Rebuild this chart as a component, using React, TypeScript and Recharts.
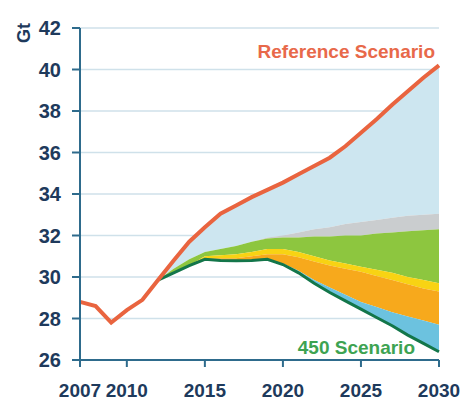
import React from 'react';
import { ComposedChart, Area, Line, XAxis, YAxis, CartesianGrid } from 'recharts';

const years = [2007, 2008, 2009, 2010, 2011, 2012, 2013, 2014, 2015, 2016, 2017, 2018, 2019, 2020, 2021, 2022, 2023, 2024, 2025, 2026, 2027, 2028, 2029, 2030];
const referenceScenario = [28.8, 28.6, 27.8, 28.4, 28.9, 29.85, 30.8, 31.7, 32.4, 33.05, 33.45, 33.85, 34.2, 34.55, 34.95, 35.35, 35.75, 36.3, 36.95, 37.6, 38.3, 38.95, 39.6, 40.2];
const greyTop = [null, null, null, null, null, 29.85, 30.4, 30.85, 31.2, 31.35, 31.5, 31.7, 31.9, 32.0, 32.15, 32.3, 32.4, 32.55, 32.65, 32.75, 32.85, 32.95, 33.0, 33.05];
const greenTop = [null, null, null, null, null, 29.85, 30.4, 30.85, 31.2, 31.35, 31.5, 31.7, 31.85, 31.9, 31.9, 31.95, 31.95, 32.0, 32.0, 32.1, 32.15, 32.2, 32.25, 32.3];
const yellowTop = [null, null, null, null, null, 29.85, 30.2, 30.55, 31.0, 31.05, 31.1, 31.2, 31.35, 31.35, 31.2, 31.0, 30.8, 30.65, 30.5, 30.35, 30.2, 30.0, 29.85, 29.7];
const orangeTop = [null, null, null, null, null, 29.85, 30.2, 30.55, 30.9, 30.9, 30.9, 31.0, 31.1, 31.1, 30.95, 30.75, 30.55, 30.4, 30.25, 30.05, 29.85, 29.65, 29.45, 29.3];
const blueTop = [null, null, null, null, null, 29.85, 30.2, 30.55, 30.85, 30.8, 30.78, 30.8, 30.85, 30.65, 30.3, 29.85, 29.5, 29.15, 28.8, 28.55, 28.3, 28.1, 27.9, 27.7];
const scenario450 = [null, null, null, null, null, 29.85, 30.2, 30.55, 30.85, 30.8, 30.78, 30.8, 30.85, 30.6, 30.2, 29.7, 29.25, 28.85, 28.45, 28.05, 27.65, 27.2, 26.8, 26.4];

const xTicks = [2007, 2010, 2015, 2020, 2025, 2030];
const yTicks = [26, 28, 30, 32, 34, 36, 38, 40, 42];
const unitLabel = 'Gt';
const refLabel = 'Reference Scenario';
const s450Label = '450 Scenario';

const data = years.map((year, i) => ({
  year,
  ref: referenceScenario[i],
  greyTop: greyTop[i],
  greenTop: greenTop[i],
  yellowTop: yellowTop[i],
  orangeTop: orangeTop[i],
  blueTop: blueTop[i],
  s450: scenario450[i],
}));

const range = (lo: string, hi: string) => (d: any) =>
  d[lo] == null || d[hi] == null ? null : [d[lo], d[hi]];

const FONT = '"Liberation Sans", Arial, sans-serif';
const AXIS = '#2E6B8C';
const TICKTXT = '#1E3A5C';
const CURVE = 'linear';

export default function App() {
  return (
    <div style={{ position: 'absolute', left: 0, top: 0, width: 465, height: 405, background: '#fff' }}>
      <ComposedChart width={465} height={405} data={data} margin={{ top: 28, right: 26, bottom: 0, left: 0 }}>
        <CartesianGrid vertical={false} stroke="#CFE1EA" strokeWidth={1.5} />
        <XAxis
          type="number"
          dataKey="year"
          domain={[2007, 2030]}
          ticks={xTicks}
          height={45}
          axisLine={{ stroke: AXIS, strokeWidth: 2 }}
          tickLine={{ stroke: AXIS, strokeWidth: 2 }}
          tickSize={7}
          tickMargin={17}
          tick={{ fill: TICKTXT, fontSize: 19, fontWeight: 700, fontFamily: FONT }}
          interval={0}
        />
        <YAxis
          type="number"
          domain={[26, 42]}
          ticks={yTicks}
          width={80}
          axisLine={{ stroke: AXIS, strokeWidth: 2 }}
          tickLine={{ stroke: AXIS, strokeWidth: 2 }}
          tickSize={8}
          tickMargin={11}
          tick={{ fill: TICKTXT, fontSize: 20, fontWeight: 700, fontFamily: FONT }}
          interval={0}
          allowDataOverflow
        />
        <Area type={CURVE} dataKey={range('greyTop', 'ref')} fill="#CDE6F0" fillOpacity={1} stroke="none" isAnimationActive={false} />
        <Area type={CURVE} dataKey={range('greenTop', 'greyTop')} fill="#CACDCF" fillOpacity={1} stroke="none" isAnimationActive={false} />
        <Area type={CURVE} dataKey={range('yellowTop', 'greenTop')} fill="#8DC63F" fillOpacity={1} stroke="none" isAnimationActive={false} />
        <Area type={CURVE} dataKey={range('orangeTop', 'yellowTop')} fill="#F8D313" fillOpacity={1} stroke="none" isAnimationActive={false} />
        <Area type={CURVE} dataKey={range('blueTop', 'orangeTop')} fill="#F7A91C" fillOpacity={1} stroke="none" isAnimationActive={false} />
        <Area type={CURVE} dataKey={range('s450', 'blueTop')} fill="#6CC2DF" fillOpacity={1} stroke="none" isAnimationActive={false} />
        <Line type={CURVE} dataKey="s450" stroke="#13764A" strokeWidth={3} dot={false} isAnimationActive={false} />
        <Line type={CURVE} dataKey="ref" stroke="#E9643F" strokeWidth={4} dot={false} isAnimationActive={false} />
      </ComposedChart>
      <svg width={465} height={405} style={{ position: 'absolute', left: 0, top: 0, pointerEvents: 'none' }}>
        <text x={24} y={33} transform="rotate(-90, 24, 33)" textAnchor="middle" dominantBaseline="central" fill={TICKTXT} fontSize={18} fontWeight={700} fontFamily={FONT}>{unitLabel}</text>
        <text x={435} y={58} textAnchor="end" fill="#E8694A" fontSize={19} fontWeight={700} fontFamily={FONT}>{refLabel}</text>
        <text x={415} y={354} textAnchor="end" fill="#3DA352" fontSize={19} fontWeight={700} fontFamily={FONT}>{s450Label}</text>
      </svg>
    </div>
  );
}
